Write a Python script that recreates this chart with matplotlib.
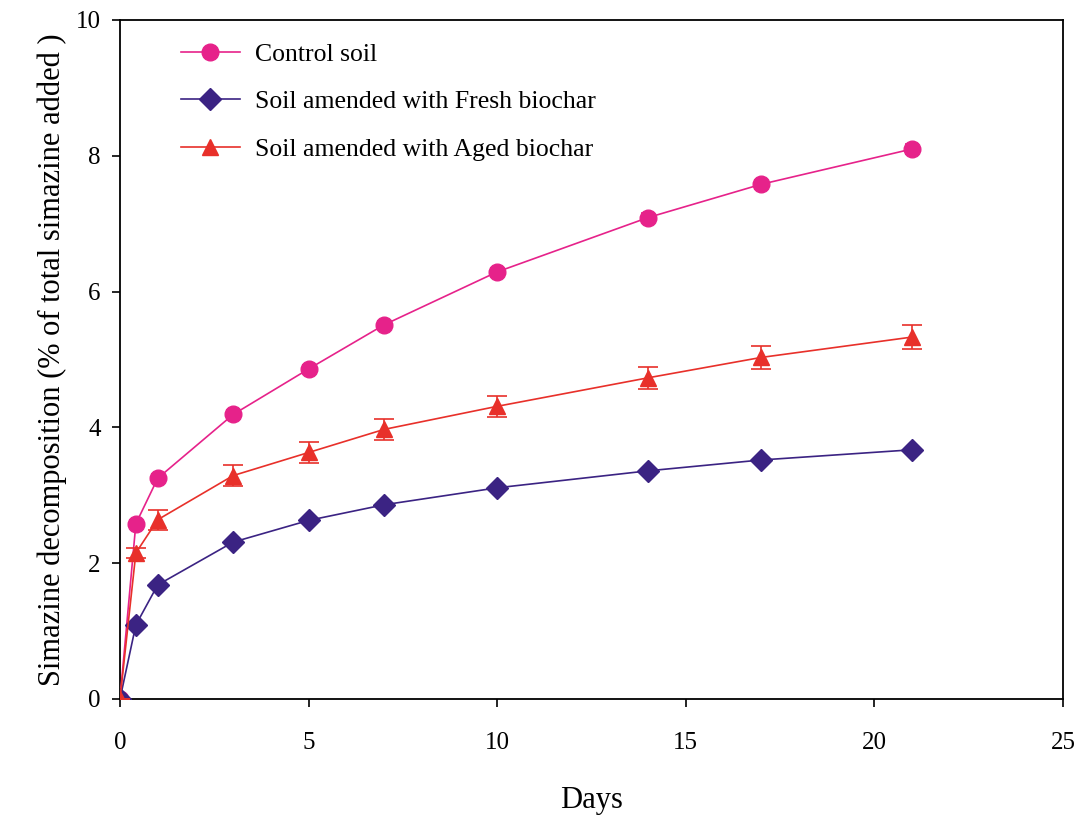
import numpy as np
import matplotlib
matplotlib.use('Agg')
import matplotlib.pyplot as plt

# --- data ---
days = [0, 0.42, 1, 3, 5, 7, 10, 14, 17, 21]

control = [0, 2.58, 3.25, 4.19, 4.86, 5.51, 6.29, 7.09, 7.58, 8.10]
control_err = [0, 0.05, 0.06, 0.06, 0.06, 0.06, 0.06, 0.06, 0.07, 0.08]

fresh = [0, 1.09, 1.68, 2.31, 2.63, 2.86, 3.11, 3.36, 3.52, 3.67]
fresh_err = [0, 0.03, 0.03, 0.03, 0.03, 0.03, 0.03, 0.03, 0.03, 0.04]

aged = [0, 2.15, 2.64, 3.29, 3.63, 3.97, 4.31, 4.73, 5.03, 5.33]
aged_err = [0, 0.08, 0.15, 0.15, 0.15, 0.15, 0.15, 0.16, 0.17, 0.18]

labels = ['Control soil', 'Soil amended with Fresh biochar', 'Soil amended with Aged biochar']

plt.rcParams['font.family'] = ['Liberation Serif', 'DejaVu Serif']

fig = plt.figure(figsize=(10.84, 8.18), dpi=100)
ax = fig.add_axes([0.1107, 0.1455, 0.8699, 0.8301])

ax.errorbar(days, control, yerr=control_err, color='#E6228A', marker='o', ms=12,
            lw=1.2, capsize=5, elinewidth=1.2, capthick=1.2, label=labels[0], zorder=3)
ax.errorbar(days, fresh, yerr=fresh_err, color='#3B2383', marker='D', ms=11,
            lw=1.2, capsize=5, elinewidth=1.2, capthick=1.2, label=labels[1], zorder=4)
ax.errorbar(days, aged, yerr=aged_err, color='#E8302A', marker='^', ms=12,
            lw=1.2, capsize=7, elinewidth=1.2, capthick=1.2, label=labels[2], zorder=5)

ax.set_xlim(0, 25)
ax.set_ylim(0, 10)
ax.set_xticks([0, 5, 10, 15, 20, 25])
ax.set_yticks([0, 2, 4, 6, 8, 10])
ax.tick_params(direction='out', length=6, width=1.2, labelsize=18)
ax.tick_params(axis='x', pad=18)
ax.tick_params(axis='y', pad=8)
for s in ax.spines.values():
    s.set_linewidth(1.3)

ax.set_xlabel('Days', fontsize=22, labelpad=23)
ax.set_ylabel('Simazine decomposition (% of total simazine added )', fontsize=22, labelpad=6)

handles, lbls = ax.get_legend_handles_labels()
handles = [h[0] for h in handles]
ax.legend(handles, lbls, loc='upper left', frameon=False, fontsize=18.5,
          bbox_to_anchor=(0.04, 1.0), handlelength=2.3, labelspacing=0.95,
          handletextpad=0.6)

fig.savefig('out.png', dpi=100)
